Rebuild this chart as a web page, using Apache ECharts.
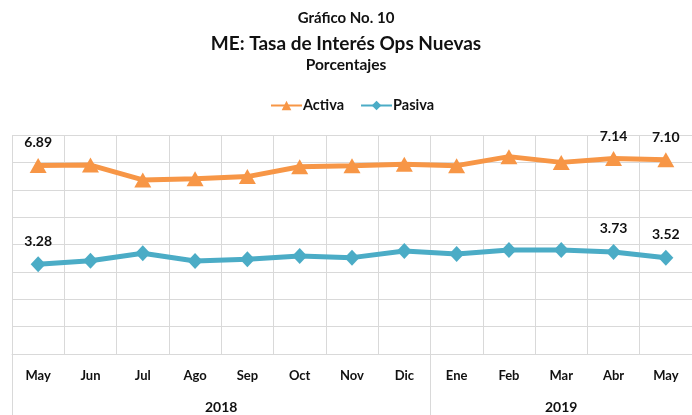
<!DOCTYPE html>
<html>
<head>
<meta charset="utf-8">
<script src="https://cdn.jsdelivr.net/npm/echarts@6/dist/echarts.min.js"></script>
<style>
  html, body { margin: 0; padding: 0; background: #fff; }
  #chart { width: 692px; height: 415px; }
</style>
</head>
<body>
<div id="chart"></div>
<script>
// datos
const months = ['May', 'Jun', 'Jul', 'Ago', 'Sep', 'Oct', 'Nov', 'Dic', 'Ene', 'Feb', 'Mar', 'Abr', 'May'];
const years = ['2018', '2019'];
const monthsPerYear = [8, 5];
const activa = [6.89, 6.90, 6.36, 6.40, 6.48, 6.84, 6.88, 6.93, 6.88, 7.21, 7.00, 7.14, 7.10];
const pasiva = [3.28, 3.41, 3.68, 3.40, 3.46, 3.58, 3.52, 3.76, 3.65, 3.80, 3.80, 3.73, 3.52];
const labelIdx = [0, 11, 12];   // puntos con etiqueta

const font = 'Lato, "Open Sans", sans-serif';
const gridColor = '#d9d9d9';
const textColor = '#111111';

// límites y centros de cada año sobre el eje de meses
const yearBounds = [0];
monthsPerYear.forEach(n => yearBounds.push(yearBounds[yearBounds.length - 1] + n));
const yearCenters = years.map((y, i) => (yearBounds[i] + yearBounds[i + 1]) / 2);

function withLabels(values) {
  return values.map((v, i) => ({ value: v, label: { show: labelIdx.includes(i) } }));
}

const myChart = echarts.init(document.getElementById('chart'));

const option = {
  animation: false,
  textStyle: { fontFamily: font },
  title: [
    { text: 'Gráfico No. 10', left: 'center', top: 6, textStyle: { fontSize: 15, fontWeight: 'bold', color: textColor, fontFamily: font } },
    { text: 'ME: Tasa de Interés Ops Nuevas', left: 'center', top: 29, textStyle: { fontSize: 19, fontWeight: 'bold', color: textColor, fontFamily: font } },
    { text: 'Porcentajes', left: 'center', top: 52, textStyle: { fontSize: 15.5, fontWeight: 'bold', color: textColor, fontFamily: font } }
  ],
  legend: {
    left: 265,
    top: 93,
    itemWidth: 31,
    itemHeight: 12,
    itemGap: 16,
    textStyle: { fontSize: 14.5, fontWeight: 'bold', color: textColor, fontFamily: font, padding: [0, 0, 0, -4] },
    data: ['Activa', 'Pasiva']
  },
  grid: { left: 12, right: 0, top: 135, bottom: 61 },
  xAxis: [
    {
      type: 'category',
      data: months,
      boundaryGap: true,
      axisLine: { show: true, lineStyle: { color: gridColor, width: 1 } },
      axisTick: { show: false },
      splitLine: { show: true, lineStyle: { color: gridColor, width: 1 } },
      axisLabel: { margin: 15, fontSize: 13, fontWeight: 'bold', color: textColor, fontFamily: font }
    },
    {
      type: 'value',
      position: 'bottom',
      min: 0,
      max: months.length,
      axisLine: { show: false },
      splitLine: { show: false },
      axisTick: { show: true, customValues: yearBounds, length: 61, lineStyle: { color: gridColor, width: 1 } },
      axisLabel: {
        customValues: yearCenters,
        margin: 46,
        fontSize: 14,
        fontWeight: 'bold',
        color: textColor,
        fontFamily: font,
        formatter: v => years[yearCenters.indexOf(v)]
      }
    }
  ],
  yAxis: {
    type: 'value',
    min: 0,
    max: 8,
    interval: 1,
    axisLabel: { show: false },
    axisLine: { show: false },
    axisTick: { show: false },
    splitLine: { show: true, lineStyle: { color: gridColor, width: 1 } }
  },
  series: [
    {
      name: 'Activa',
      type: 'line',
      data: withLabels(activa),
      color: '#f79646',
      symbol: 'triangle',
      symbolSize: [17, 15],
      lineStyle: { width: 5 },
      label: { position: 'top', distance: 8, fontSize: 14, fontWeight: 'bold', color: textColor, fontFamily: font, formatter: p => p.value.toFixed(2) }
    },
    {
      name: 'Pasiva',
      type: 'line',
      data: withLabels(pasiva),
      color: '#4bacc6',
      symbol: 'diamond',
      symbolSize: [15, 16],
      lineStyle: { width: 5 },
      label: { position: 'top', distance: 8, fontSize: 14, fontWeight: 'bold', color: textColor, fontFamily: font, formatter: p => p.value.toFixed(2) }
    }
  ]
};

myChart.setOption(option);

window.addEventListener('resize', () => {
  myChart.resize();
});
</script>
</body>
</html>
